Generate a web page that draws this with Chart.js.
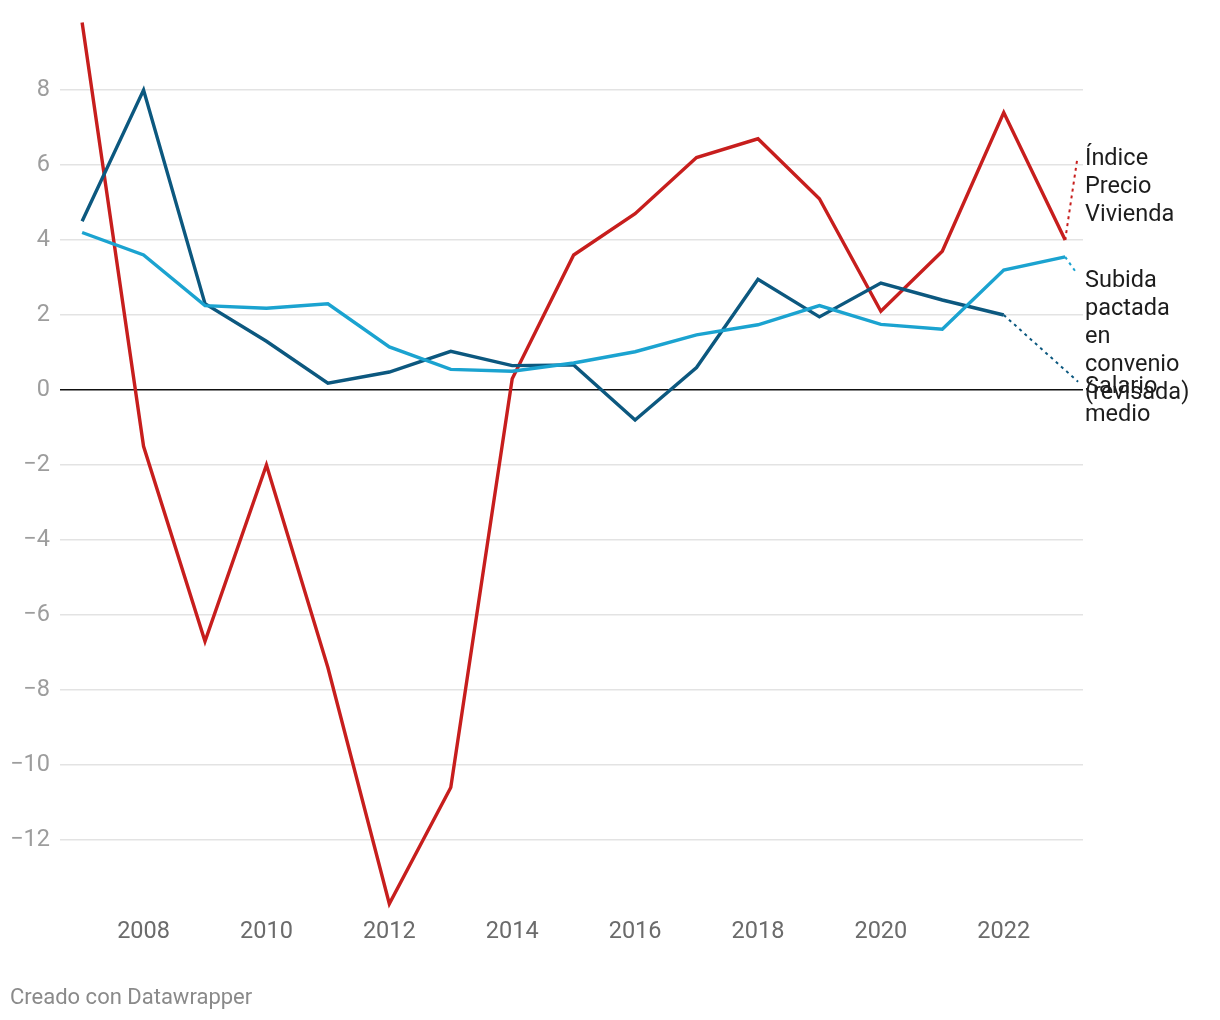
<!DOCTYPE html>
<html>
<head>
<meta charset="utf-8">
<script src="https://cdn.jsdelivr.net/npm/chart.js@4.4.1/dist/chart.umd.min.js"></script>
<style>
  body { margin: 0; background: #fff; }
  #wrap { position: relative; width: 1220px; height: 1020px; }
  #footer { position: absolute; left: 10px; top: 983px; font: 22px Roboto, sans-serif; color: #8a8a8a; line-height: 28px; }
</style>
</head>
<body>
<div id="wrap">
  <canvas id="chart" width="1220" height="1020"></canvas>
  <div id="footer">Creado con Datawrapper</div>
</div>
<script>
// Años
const years = [2007, 2008, 2009, 2010, 2011, 2012, 2013, 2014, 2015, 2016, 2017, 2018, 2019, 2020, 2021, 2022, 2023];

// Series (variación anual, %)
const precioVivienda = [9.8, -1.5, -6.7, -2.0, -7.4, -13.7, -10.6, 0.3, 3.6, 4.7, 6.2, 6.7, 5.1, 2.1, 3.7, 7.4, 4.0];
const salarioMedio = [4.5, 8.0, 2.3, 1.3, 0.18, 0.48, 1.03, 0.65, 0.67, -0.8, 0.6, 2.95, 1.95, 2.85, 2.4, 2.0, null];
const subidaPactada = [4.2, 3.6, 2.25, 2.18, 2.3, 1.15, 0.55, 0.5, 0.72, 1.02, 1.47, 1.74, 2.25, 1.75, 1.62, 3.2, 3.55];

// Líneas de conexión hacia las etiquetas [año, valor]
const conectorPrecio = [[2023, 4.0], [2023.2, 6.2]];
const conectorSubida = [[2023, 3.55], [2023.18, 3.13]];
const conectorSalario = [[2022, 2.0], [2023.21, 0.22]];

// Ticks
const xTicks = [2008, 2010, 2012, 2014, 2016, 2018, 2020, 2022];
const yTicks = [-12, -10, -8, -6, -4, -2, 0, 2, 4, 6, 8];

// Etiquetas de las series
const labelPrecio = ["Índice", "Precio", "Vivienda"];
const labelSubida = ["Subida", "pactada", "en", "convenio", "(revisada)"];
const labelSalario = ["Salario", "medio"];

const rojo = "#c71e1d";
const azulOscuro = "#0c587f";
const azulClaro = "#1ba3d0";

const toPoints = (serie) => years.map((y, i) => ({ x: y, y: serie[i] }));
const toXY = (pares) => pares.map((p) => ({ x: p[0], y: p[1] }));

const lineStyle = (color) => ({
  borderColor: color,
  borderWidth: 3.4,
  pointRadius: 0,
  fill: false,
  tension: 0,
  clip: false,
  spanGaps: false,
});

const dotStyle = (color) => ({
  borderColor: color,
  borderWidth: 2,
  borderDash: [3, 4],
  pointRadius: 0,
  fill: false,
  clip: false,
});

// Etiquetas a la derecha
const labelsPlugin = {
  id: "labels",
  afterDraw(chart) {
    const ctx = chart.ctx;
    const ys = chart.scales.y;
    ctx.save();
    ctx.font = "23.5px Roboto";
    ctx.fillStyle = "#1d1d1d";
    ctx.textBaseline = "middle";
    ctx.textAlign = "left";
    const draw = (lines, value) => {
      const top = ys.getPixelForValue(value);
      lines.forEach((t, i) => ctx.fillText(t, 1085, top + i * 28));
    };
    draw(labelPrecio, 6.15);
    draw(labelSubida, 2.9);
    draw(labelSalario, 0.08);
    ctx.restore();
  },
};

new Chart(document.getElementById("chart").getContext("2d"), {
  type: "line",
  data: {
    datasets: [
      { label: "Subida pactada en convenio (revisada)", data: toPoints(subidaPactada), ...lineStyle(azulClaro) },
      { label: "Salario medio", data: toPoints(salarioMedio), ...lineStyle(azulOscuro) },
      { label: "Índice Precio Vivienda", data: toPoints(precioVivienda), ...lineStyle(rojo) },
      { data: toXY(conectorPrecio), ...dotStyle(rojo) },
      { data: toXY(conectorSubida), ...dotStyle(azulClaro) },
      { data: toXY(conectorSalario), ...dotStyle(azulOscuro) },
    ],
  },
  options: {
    responsive: false,
    animation: false,
    layout: { padding: { left: 0, right: 137, top: 15, bottom: 62.5 } },
    plugins: { legend: { display: false }, tooltip: { enabled: false } },
    scales: {
      x: {
        type: "linear",
        min: 2006.64,
        max: 2023.29,
        grid: { display: false },
        border: { display: false },
        afterBuildTicks: (scale) => { scale.ticks = xTicks.map((v) => ({ value: v })); },
        afterFit: (scale) => { scale.height = 50; scale.paddingLeft = 0; scale.paddingRight = 0; },
        ticks: {
          color: "#6b6b6b",
          font: { family: "Roboto", size: 23.5 },
          padding: 3,
          maxRotation: 0,
          callback: (v) => String(v),
        },
      },
      y: {
        min: -13.8,
        max: 10,
        border: { display: false },
        afterBuildTicks: (scale) => { scale.ticks = yTicks.map((v) => ({ value: v })); },
        afterFit: (scale) => { scale.width = 60; scale.paddingTop = 0; scale.paddingBottom = 0; },
        grid: {
          drawTicks: false,
          lineWidth: 1.6,
          color: (c) => (c.tick && c.tick.value === 0 ? "#111111" : "#e3e3e3"),
        },
        ticks: {
          color: "#9d9d9d",
          font: { family: "Roboto", size: 23.5 },
          padding: 10,
          callback: (v) => (v < 0 ? "\u2212" + Math.abs(v) : String(v)),
        },
      },
    },
  },
  plugins: [labelsPlugin],
});
</script>
</body>
</html>
